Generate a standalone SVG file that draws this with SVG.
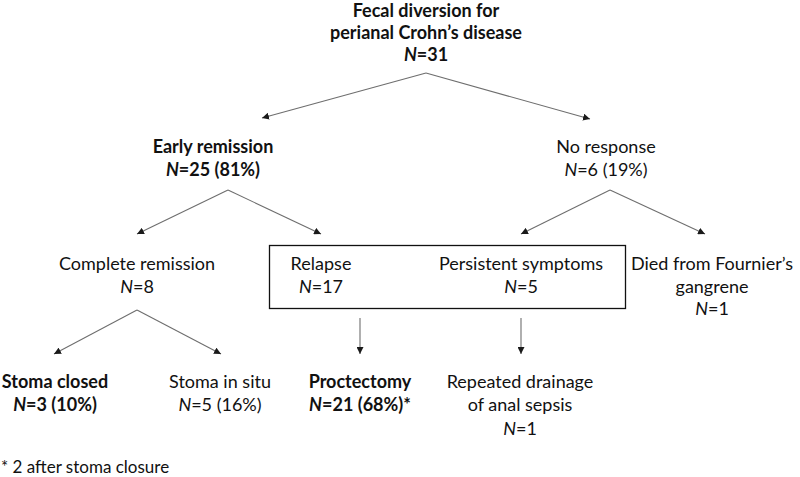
<svg xmlns="http://www.w3.org/2000/svg" width="800" height="477" viewBox="0 0 800 477">
<defs>
<marker id="ah" viewBox="0 0 10 10" refX="10" refY="5" markerWidth="7" markerHeight="7" orient="auto" markerUnits="userSpaceOnUse">
<path d="M0,0 L10,5 L0,10 z" fill="#1a1a1a"/>
</marker>
<style>
text{font-family:Lato,"Liberation Sans",sans-serif;font-size:18px;fill:#111;text-anchor:middle}
.b{font-weight:bold}
.c line{stroke:#6e6e6e;stroke-width:1.1;marker-end:url(#ah)}
</style>
</defs>
<rect width="800" height="477" fill="#fff"/>
<g id="root">
<text class="b" x="426" y="17">Fecal diversion for</text>
<text class="b" x="426" y="39">perianal Crohn’s disease</text>
<text class="b" x="426" y="61"><tspan font-style="italic">N</tspan>=31</text>
</g>
<g id="early">
<text class="b" x="213" y="153">Early remission</text>
<text class="b" x="213" y="176"><tspan font-style="italic">N</tspan>=25 (81%)</text>
</g>
<g id="noresp">
<text x="606" y="153">No response</text>
<text x="606" y="176"><tspan font-style="italic">N</tspan>=6 (19%)</text>
</g>
<g id="complete">
<text x="137" y="270">Complete remission</text>
<text x="137" y="293"><tspan font-style="italic">N</tspan>=8</text>
</g>
<g id="box">
<rect x="269.5" y="245.5" width="356" height="63" fill="none" stroke="#111" stroke-width="1.3"/>
</g>
<g id="relapse">
<text x="321" y="270">Relapse</text>
<text x="321" y="293"><tspan font-style="italic">N</tspan>=17</text>
</g>
<g id="persistent">
<text x="521" y="270">Persistent symptoms</text>
<text x="521" y="293"><tspan font-style="italic">N</tspan>=5</text>
</g>
<g id="died">
<text x="712" y="270">Died from Fournier’s</text>
<text x="712" y="293">gangrene</text>
<text x="712" y="315"><tspan font-style="italic">N</tspan>=1</text>
</g>
<g id="closed">
<text class="b" x="55" y="388">Stoma closed</text>
<text class="b" x="55" y="411"><tspan font-style="italic">N</tspan>=3 (10%)</text>
</g>
<g id="insitu">
<text x="220" y="388">Stoma in situ</text>
<text x="220" y="411"><tspan font-style="italic">N</tspan>=5 (16%)</text>
</g>
<g id="proctectomy">
<text class="b" x="360" y="388">Proctectomy</text>
<text class="b" x="360" y="411"><tspan font-style="italic">N</tspan>=21 (68%)*</text>
</g>
<g id="drainage">
<text x="520" y="388">Repeated drainage</text>
<text x="520" y="411">of anal sepsis</text>
<text x="520" y="435"><tspan font-style="italic">N</tspan>=1</text>
</g>
<g id="footnote">
<text x="1" y="473" style="text-anchor:start;font-size:17px">* 2 after stoma closure</text>
</g>
<g id="connectors" class="c">
<line x1="426" y1="73" x2="262" y2="118"/>
<line x1="426" y1="73" x2="590" y2="119"/>
<line x1="228" y1="190" x2="137" y2="234"/>
<line x1="228" y1="190" x2="321" y2="234"/>
<line x1="610" y1="190" x2="521" y2="234"/>
<line x1="610" y1="190" x2="705" y2="234"/>
<line x1="137" y1="310" x2="54" y2="354"/>
<line x1="137" y1="310" x2="221" y2="354"/>
<line x1="360" y1="318" x2="360" y2="354"/>
<line x1="521" y1="318" x2="521" y2="354"/>
</g>
</svg>
